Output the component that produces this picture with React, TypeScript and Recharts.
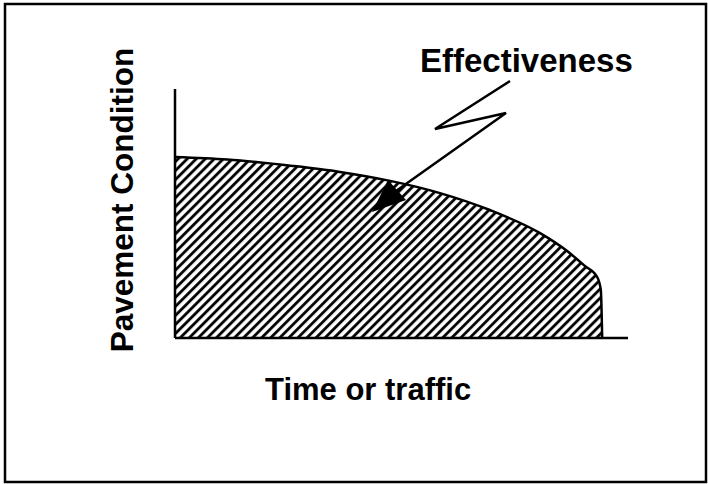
import React from 'react';
import { AreaChart, Area, XAxis, YAxis, ReferenceLine } from 'recharts';

// time / traffic (0-100 along the x axis) and pavement condition (0-100)
const timeOrTraffic = [0, 11.5, 26.0, 36.4, 47.5, 58.5, 69.5, 80.5, 86.5, 90.5, 93.2, 94.0, 94.3];
const pavementCondition = [72.7, 71.7, 69.1, 66.7, 63.1, 58.2, 51.4, 42.2, 35.0, 28.9, 24.5, 19.3, 0];

const data = timeOrTraffic.map((t, i) => ({ t, condition: pavementCondition[i] }));

const W = 708;
const H = 484;
const FONT = '"Liberation Sans", Arial, Helvetica, sans-serif';

const App: React.FC = () => {
  return (
    <div style={{ position: 'absolute', left: 0, top: 0, width: W, height: H, background: '#fff' }}>
      <AreaChart
        width={W}
        height={H}
        data={data}
        margin={{ top: 89, right: 80, bottom: 146, left: 175 }}
      >
        <defs>
          <pattern
            id="hatch"
            patternUnits="userSpaceOnUse"
            width={6.4}
            height={6.4}
            patternTransform="rotate(45)"
          >
            <line x1={1.5} y1={0} x2={1.5} y2={6.4} stroke="#000" strokeWidth={2.8} />
          </pattern>
        </defs>
        <XAxis dataKey="t" type="number" domain={[0, 100]} hide />
        <YAxis type="number" domain={[0, 100]} hide />
        <Area
          type="monotone"
          dataKey="condition"
          stroke="#000"
          strokeWidth={2.5}
          fill="url(#hatch)"
          fillOpacity={1}
          isAnimationActive={false}
          dot={false}
          activeDot={false}
        />
        {/* axes drawn as plain lines along the plot edges */}
        <ReferenceLine y={0} stroke="#000" strokeWidth={2.5} />
        <ReferenceLine x={0} stroke="#000" strokeWidth={2.5} />
      </AreaChart>
      <svg
        width={W}
        height={H}
        style={{ position: 'absolute', left: 0, top: 0, pointerEvents: 'none' }}
      >
        <rect x={5} y={4} width={701} height={478} fill="none" stroke="#000" strokeWidth={2.5} />
        <text
          x={0}
          y={0}
          transform="translate(133,200) rotate(-90)"
          textAnchor="middle"
          fontFamily={FONT}
          fontWeight="bold"
          fontSize={31.5}
          fill="#000"
        >
          Pavement Condition
        </text>
        <text x={265} y={400} fontFamily={FONT} fontWeight="bold" fontSize={31} fill="#000">
          Time or traffic
        </text>
        <text x={420} y={72} fontFamily={FONT} fontWeight="bold" fontSize={33} fill="#000">
          Effectiveness
        </text>
        <polyline
          points="510,81 435,129 506,113 396,191"
          fill="none"
          stroke="#000"
          strokeWidth={2.5}
          strokeLinejoin="miter"
        />
        <polygon points="372,212 388,180 406,200" fill="#000" />
      </svg>
    </div>
  );
};

export default App;
